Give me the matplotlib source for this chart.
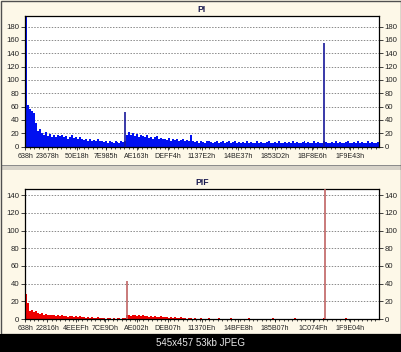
import numpy as np
import matplotlib
matplotlib.use("Agg")
import matplotlib.pyplot as plt
from matplotlib.patches import Rectangle
from matplotlib.ticker import FixedLocator, AutoMinorLocator

W, H = 402, 352
BG = "#fdf8e8"
GRID = "#8a8a8a"
PI_BLUE = "#0010f0"
PI_SPIKE = "#18189a"
PIF_RED = "#ee0000"
PIF_SPIKE = "#c06464"
FONT = "Liberation Sans"

# x axis is the disc LBA, sampled every SAMPLE_STEP sectors
SAMPLE_STEP = 12700
X_MAX = 2260000

PI_TICK_LABELS = ["638h", "23678h", "50E18h", "7E985h", "AE163h", "DEFF4h",
                  "1137E2h", "14BE37h", "1853D2h", "1BF8E6h", "1F9E43h"]
PIF_TICK_LABELS = ["638h", "22816h", "4EEEFh", "7CE9Dh", "AE002h", "DEB07h",
                   "11370Eh", "14BFE8h", "185B07h", "1C074Fh", "1F9E04h"]

PI_VALUES = [
    195,
    62, 57, 54, 50, 36, 24, 27,
    20, 17, 22, 16, 19, 15, 18, 14, 17, 16,
    18, 14, 16, 12, 15, 17, 13, 14, 11, 15,
    12, 10, 12, 9, 11, 8, 10, 9, 12, 8,
    9, 7, 8, 6, 9, 7, 6, 8, 7, 6, 8, 7,
    8,
    18, 22, 17, 20, 16, 19, 15, 18,
    16, 14, 17, 13, 15, 12, 14, 16, 12, 13,
    11, 12, 10, 13, 9, 11, 10, 12, 9, 10, 11, 9, 10, 8,
    18,
    8, 7, 9, 6, 8, 7, 6, 8, 9, 7, 6, 7, 8, 6, 7, 9, 6, 7, 8, 6, 7, 8, 6, 7,
    6, 7, 5, 8, 6, 7, 5, 6, 8, 6, 7, 5, 6, 7, 9, 6, 5, 7, 6, 8,
    6, 5, 7, 6, 7, 5, 8, 6, 7, 6, 5, 7, 8, 6, 7, 5, 6, 9, 6, 7,
    5, 6, 8, 7, 6, 5, 7, 6, 8, 6, 7, 5, 6, 7, 8, 6, 5, 7, 6, 9,
    6, 7, 5, 6, 8, 6, 7, 6, 5, 7,
]
PIF_VALUES = [
    28,
    18, 9, 10, 8, 9, 7, 6,
    7, 5, 6, 4, 5, 4, 4, 3, 4, 3,
    4, 3, 3, 2, 3, 3, 2, 3, 2, 3,
    2, 2, 1, 2, 1, 2, 1, 1, 2, 1,
    1, 1, 0, 1, 1, 0, 1, 0, 1, 1, 0, 1,
    1,
    4, 5, 3, 4, 4, 3, 4, 3,
    4, 3, 3, 2, 3, 2, 3, 2, 2, 3,
    2, 2, 2, 1, 2, 1, 2, 1, 1, 2, 1, 1, 0, 1,
    1,
    0, 1, 0, 0, 1, 0, 0, 0, 1, 0, 0, 0, 0, 1, 0, 0, 0, 0, 0, 1, 0, 0, 0, 0,
    0, 0, 0, 0, 1, 0, 0, 0, 0, 0, 0, 0, 0, 0, 0, 0, 1, 0, 0, 0,
    0, 0, 0, 0, 0, 0, 0, 1, 0, 0, 0, 0, 0, 0, 0, 0, 0, 0, 0, 0,
    0, 0, 1, 0, 0, 0, 0, 0, 0, 0, 0, 0, 0, 1, 0, 0, 0, 0, 0, 0,
    0, 0, 0, 0, 0, 0, 0, 0, 0, 0,
]

# isolated single-sample peaks
PI_SPIKE_LBA = [638000, 1909000]
PI_SPIKE_VAL = [52, 155]
PIF_SPIKE_LBA = [654000, 1915000]
PIF_SPIKE_VAL = [43, 150]


def px_rect(x0, y0, x1, y1):
    """pixel box (top-left origin) -> figure fraction rect"""
    return [x0 / W, 1 - y1 / H, (x1 - x0) / W, (y1 - y0) / H]


def fig_box(x0, y0, x1, y1, **kw):
    r = px_rect(x0, y0, x1, y1)
    fig.add_artist(Rectangle(r[:2], r[2], r[3], transform=fig.transFigure,
                             **kw))


def draw_panel(ax, values, color, spike_lba, spike_val, spike_color,
               ylim, yticks, tick_labels, title):
    edges = np.arange(len(values) + 1) * SAMPLE_STEP
    ax.stairs(values, edges, fill=True, color=color, baseline=0,
              antialiased=False, zorder=2)
    ax.vlines(spike_lba, 0, spike_val, color=spike_color, linewidth=1.2,
              zorder=3)
    ax.set_xlim(0, X_MAX)
    ax.set_ylim(0, ylim)
    ax.set_facecolor("white")
    ax.set_yticks(yticks)
    ax.yaxis.grid(True, color=GRID, linestyle=(0, (1.5, 1.5)), linewidth=0.7)
    ax.set_axisbelow(True)
    ax.xaxis.set_major_locator(
        FixedLocator([int(t[:-1], 16) for t in tick_labels]))
    ax.set_xticklabels(tick_labels)
    ax.xaxis.set_minor_locator(AutoMinorLocator(5))
    ax.tick_params(axis="y", which="both", left=True, right=True,
                   labelleft=True, labelright=True, length=3, width=0.6,
                   pad=1, labelsize=5.6, colors="#222222")
    ax.tick_params(axis="x", which="major", length=2.5, width=0.6, pad=2,
                   labelsize=5.1, colors="#222222")
    ax.tick_params(axis="x", which="minor", length=1.5, width=0.5)
    for s in ax.spines.values():
        s.set_color("black")
        s.set_linewidth(0.9)
    for lab in ax.get_xticklabels() + ax.get_yticklabels():
        lab.set_fontname(FONT)
    ax.set_title(title, fontsize=6.2, fontweight="bold", color="#1a1a50",
                 fontname=FONT, pad=3)


fig = plt.figure(figsize=(W / 100, H / 100), dpi=100, facecolor=BG)

ax_pi = fig.add_axes(px_rect(25, 16, 379, 146.5))
draw_panel(ax_pi, PI_VALUES, PI_BLUE, PI_SPIKE_LBA, PI_SPIKE_VAL, PI_SPIKE,
           196, range(0, 181, 20), PI_TICK_LABELS, "PI")

ax_pif = fig.add_axes(px_rect(25, 189, 379, 319))
draw_panel(ax_pif, PIF_VALUES, PIF_RED, PIF_SPIKE_LBA, PIF_SPIKE_VAL,
           PIF_SPIKE, 147, range(0, 141, 20), PIF_TICK_LABELS, "PIF")

# separator between the two panels
fig_box(1, 165, 401, 170, facecolor="#d6d2c8", edgecolor="none")
fig_box(1, 165, 401, 166, facecolor="#8c8c8c", edgecolor="none")

# outer frame of the screenshot
fig_box(0.5, 0.5, 401.5, 334, facecolor="none", edgecolor="#505050",
        linewidth=1)

# black footer with the image caption
fig_box(0, 334, W, H, facecolor="black", edgecolor="none")
fig.text(0.5, 1 - 343 / H, "545x457 53kb JPEG", color="#e8e8e8",
         fontsize=7, fontname=FONT, ha="center", va="center")

fig.savefig("out.png", dpi=100, facecolor=BG)
